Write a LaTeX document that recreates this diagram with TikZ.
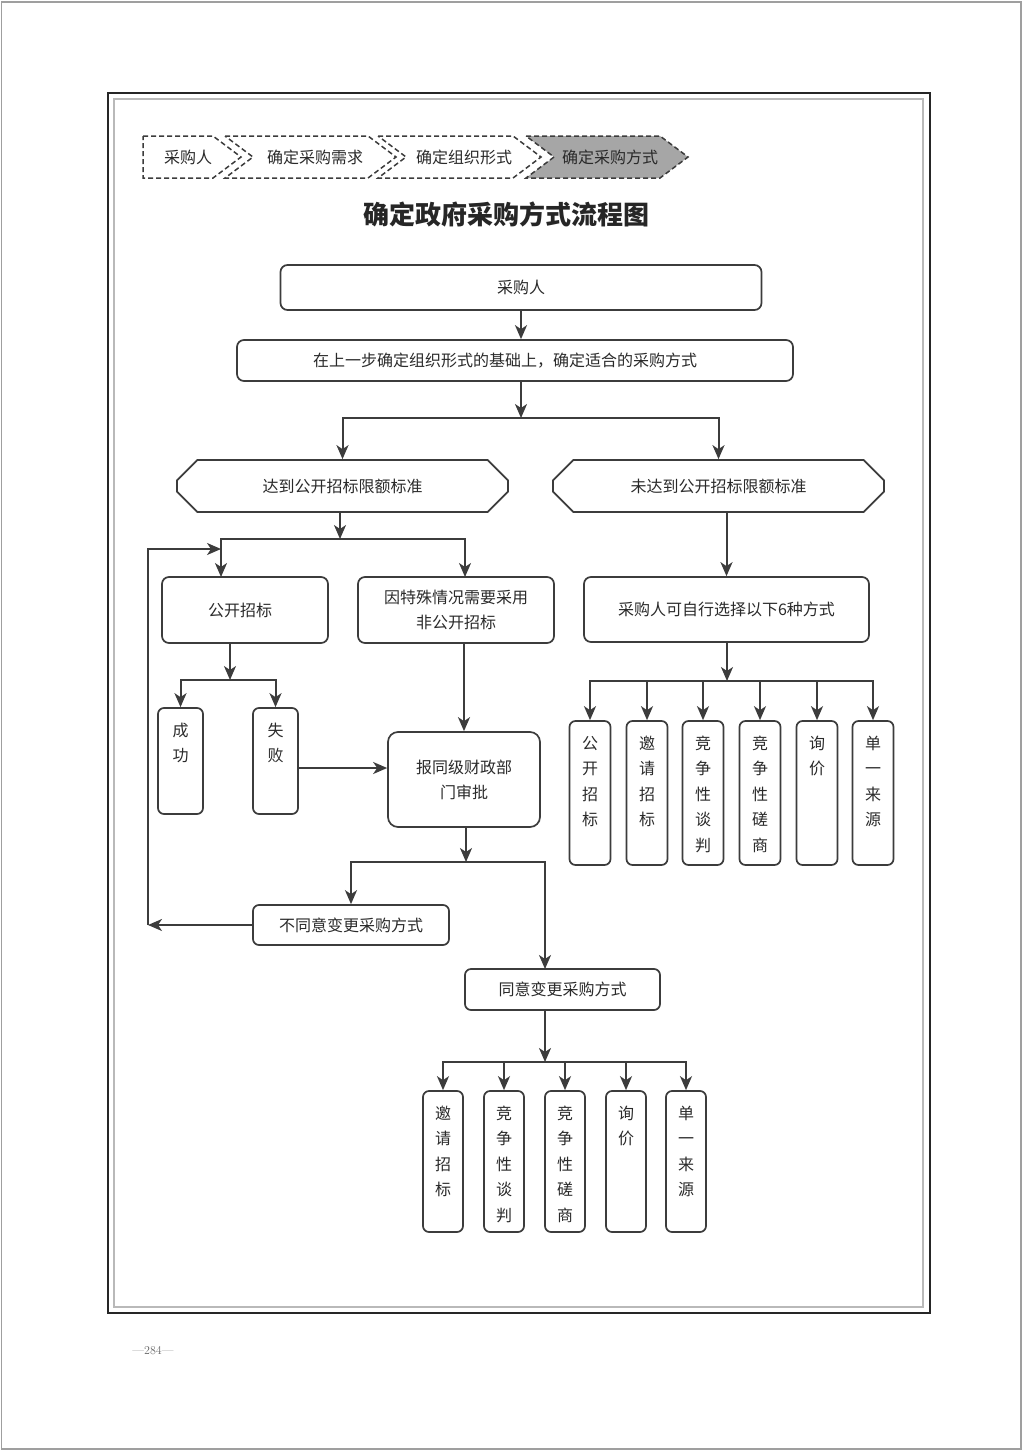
\documentclass[tikz,border=0pt]{standalone}
\usepackage{fontspec}
\newfontfamily\cjk{Noto Sans CJK SC}
\usetikzlibrary{arrows.meta,shapes.misc,calc}
\definecolor{linec}{HTML}{3C3C3C}
\definecolor{txtc}{HTML}{2A2A2A}
\definecolor{crumbfill}{HTML}{A6A6A6}
\newcommand{\vcol}[3]{\begin{minipage}[t][#1pt][t]{#2pt}\centering\cjk\fontsize{16}{25.5}\selectfont\rule{0pt}{28pt}#3\end{minipage}}
\begin{document}
\begin{tikzpicture}[x=1pt,y=-1pt,
  every node/.style={text=txtc},
  box/.style={draw=linec, line width=1.7pt, rounded corners=7pt, inner sep=0pt, align=center,
    font=\cjk\fontsize{16}{25}\selectfont},
  vbox/.style={draw=linec, line width=1.7pt, rounded corners=6pt, inner sep=0pt, font=\cjk},
  hexbox/.style={draw=linec, line width=1.7pt, chamfered rectangle, chamfered rectangle xsep=15pt,
    chamfered rectangle ysep=13pt, inner sep=0pt, font=\cjk\fontsize{16}{20}\selectfont},
  crumb/.style={draw=linec, line width=1.5pt, dash pattern=on 5pt off 3pt},
  crumbtxt/.style={font=\cjk\fontsize{16}{20}\selectfont, inner sep=0pt},
  arr/.style={draw=linec, line width=2pt, -{Stealth[length=14pt,width=12pt,inset=4pt]}},
  ln/.style={draw=linec, line width=2pt}
]
\useasboundingbox (0,0) rectangle (1024,1451);
% page edge and frame
\draw[gray!75, line width=1.5pt] (1.5,2) rectangle (1021,1449);
\draw[black!85, line width=2.6pt] (108,93) rectangle (930,1313);
\draw[gray!55, line width=1.5pt] (114,99) rectangle (923,1307);
\node[font=\fontsize{12}{14}\selectfont, text=gray!80!black] (pg) at (153,1351) {—284—};

% breadcrumb
\draw[crumb] (143,136) -- (213,136) -- (241,157) -- (213,178) -- (143,178) -- cycle;
\draw[crumb] (225,136) -- (368,136) -- (396,157) -- (368,178) -- (225,178) -- (253,157) -- cycle;
\draw[crumb] (378,136) -- (513,136) -- (541,157) -- (513,178) -- (378,178) -- (406,157) -- cycle;
\draw[crumb, fill=crumbfill] (526,136) -- (660,136) -- (688,157) -- (660,178) -- (526,178) -- (554,157) -- cycle;
\node[crumbtxt] (c1) at (188,157) {采购人};
\node[crumbtxt] (c2) at (315,157) {确定采购需求};
\node[crumbtxt] (c3) at (464,157) {确定组织形式};
\node[crumbtxt] (c4) at (610,157) {确定采购方式};

% title
\node[font=\cjk\bfseries\fontsize{26}{30}\selectfont, text=black!85] (title) at (506,214) {确定政府采购方式流程图};

% main flow
\node[box, minimum width=481pt, minimum height=45pt] (n1) at (521,287.5) {采购人};
\node[box, minimum width=556pt, minimum height=41pt] (n2) at (515,360.5) {\hspace*{-20pt}在上一步确定组织形式的基础上，确定适合的采购方式};
\draw[arr] (n1.south) -- (n1.south |- n2.north);

\node[hexbox, minimum width=331pt, minimum height=52pt] (h1) at (342.5,486) {达到公开招标限额标准};
\node[hexbox, minimum width=331pt, minimum height=52pt] (h2) at (718.5,486) {未达到公开招标限额标准};
\coordinate (j1) at (521,418);
\draw[arr] (n1.south |- n2.south) -- (j1);
\draw[arr] (j1) -| (h1.north);
\draw[arr] (j1) -| (h2.north);

% left branch
\node[box, minimum width=166pt, minimum height=66pt] (b1) at (245,610) {\hspace*{-10pt}公开招标};
\node[box, minimum width=196pt, minimum height=66pt] (b2) at (456,610) {因特殊情况需要采用\\非公开招标};
\coordinate (j2) at (340,539);
\coordinate (b1in) at (221,577);
\coordinate (b2in) at (465,577);
\draw[arr] (h1.south -| j2) -- (j2);
\draw[arr] (j2) -| (b1in);
\draw[arr] (j2) -| (b2in);

\node[vbox, minimum width=45pt, minimum height=106pt] (s1) at (180.5,761) {\vcol{106}{30}{成\\功}};
\node[vbox, minimum width=45pt, minimum height=106pt] (s2) at (275.5,761) {\vcol{106}{30}{失\\败}};
\coordinate (j3) at (230,680);
\draw[arr] (b1.south -| j3) -- (j3);
\draw[arr] (j3) -| (s1.north);
\draw[arr] (j3) -| (s2.north);

\node[box, minimum width=152pt, minimum height=95pt, rounded corners=10pt] (b5) at (464,779.5) {报同级财政部\\门审批};
\draw[arr] (b2.south -| b5.north) -- (b5.north);
\coordinate (fa) at (298,768);
\draw[arr] (fa) -- (fa -| b5.west);

\node[box, minimum width=196pt, minimum height=40pt, rounded corners=6pt] (b6) at (351,925) {不同意变更采购方式};
\node[box, minimum width=195pt, minimum height=41pt, rounded corners=6pt] (b7) at (562.5,989.5) {同意变更采购方式};
\coordinate (j4) at (466,862);
\coordinate (b7in) at (545,969);
\draw[arr] (b5.south -| j4) -- (j4);
\draw[arr] (j4) -| (b6.north);
\draw[arr] (j4) -| (b7in);

% loop back
\coordinate (lp1) at (148,925);
\coordinate (lp2) at (148,549);
\coordinate (lp3) at (221,549);
\draw[arr] (b6.west) -- (lp1);
\draw[arr] (lp1) -- (lp2) -- (lp3);

% bottom five
\coordinate (j5) at (545,1062);
\draw[arr] (b7.south -| j5) -- (j5);
\foreach \nm/\cx/\tx in {d1/443/{邀\\请\\招\\标}, d2/504/{竞\\争\\性\\谈\\判}, d3/565/{竞\\争\\性\\磋\\商}, d4/626/{询\\价}, d5/686/{单\\一\\来\\源}}{
  \node[vbox, minimum width=40pt, minimum height=141pt] (\nm) at (\cx,1161.5) {\vcol{141}{30}{\tx}};
  \draw[arr] (j5) -| (\nm.north);
}

% right branch
\node[box, minimum width=285pt, minimum height=65pt] (b3) at (726.5,609.5) {采购人可自行选择以下6种方式};
\draw[arr] (h2.south -| b3.north) -- (b3.north);
\coordinate (j6) at (727,681);
\draw[arr] (b3.south -| j6) -- (j6);
\foreach \nm/\cx/\tx in {r1/590/{公\\开\\招\\标}, r2/647/{邀\\请\\招\\标}, r3/703/{竞\\争\\性\\谈\\判}, r4/760/{竞\\争\\性\\磋\\商}, r5/817/{询\\价}, r6/873/{单\\一\\来\\源}}{
  \node[vbox, minimum width=41pt, minimum height=144pt] (\nm) at (\cx,793) {\vcol{144}{30}{\tx}};
  \draw[arr] (j6) -| (\nm.north);
}
\end{tikzpicture}
\end{document}
